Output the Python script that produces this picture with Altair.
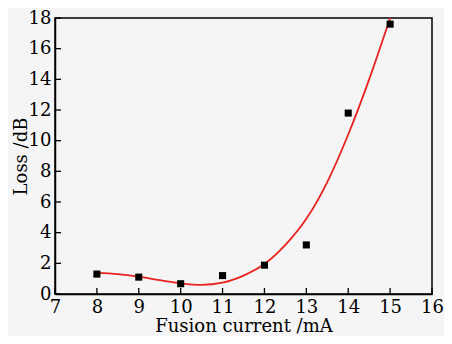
import altair as alt
import pandas as pd

# measured points
pt_x = [8, 9, 10, 11, 12, 13, 14, 15]
pt_y = [1.3, 1.1, 0.67, 1.2, 1.88, 3.2, 11.8, 17.6]

# fitted curve
cv_x = [8.0, 8.5, 9.0, 9.5, 10.0, 10.5, 11.0, 11.5, 12.0, 12.5, 13.0, 13.5, 14.0, 14.5, 15.0]
cv_y = [1.38, 1.3, 1.13, 0.9, 0.7, 0.6, 0.74, 1.2, 1.95, 3.2, 4.9, 7.3, 10.4, 14.0, 18.0]

x_ticks = [7, 8, 9, 10, 11, 12, 13, 14, 15, 16]
y_ticks = [0, 2, 4, 6, 8, 10, 12, 14, 16, 18]

pts = pd.DataFrame({"x": pt_x, "y": pt_y})
cv = pd.DataFrame({"x": cv_x, "y": cv_y})
xt = pd.DataFrame({"v": x_ticks})
yt = pd.DataFrame({"v": y_ticks})

FONT = "DejaVu Serif"
W, H = 377, 276
xs = alt.Scale(domain=[7, 16], nice=False, zero=False)
ys = alt.Scale(domain=[0, 18], nice=False)

common = dict(grid=False, ticks=False, domainColor="black", domainWidth=1.5,
              labelFont=FONT, titleFont=FONT, labelFontSize=18, titleFontSize=18,
              titleFontWeight="normal", labelColor="black", titleColor="black",
              labelOverlap=False, labelFlush=False, labelBound=False)
xaxis = alt.Axis(values=x_ticks, title="Fusion current /mA", labelPadding=4,
                 titleBaseline="alphabetic", titleY=37, **common)
yaxis = alt.Axis(values=y_ticks, title="Loss /dB", labelPadding=4,
                 titleBaseline="alphabetic", titleX=-29, **common)

X = alt.X("x:Q", scale=xs, axis=xaxis)
Y = alt.Y("y:Q", scale=ys, axis=yaxis)

curve = alt.Chart(cv).mark_line(color="#e8231f", strokeWidth=1.8, interpolate="monotone").encode(x=X, y=Y)
points = alt.Chart(pts).mark_square(color="black", size=50, opacity=1).encode(x=X, y=Y)

xtick = alt.Chart(xt).mark_rule(color="black", strokeWidth=1.3).encode(
    x=alt.X("v:Q", scale=xs, axis=xaxis), y=alt.value(H), y2=alt.value(H - 6))
ytick = alt.Chart(yt).mark_rule(color="black", strokeWidth=1.3).encode(
    y=alt.Y("v:Q", scale=ys, axis=yaxis), x=alt.value(0), x2=alt.value(6))

chart = alt.layer(curve, points, xtick, ytick).properties(
    width=W, height=H,
    autosize=alt.AutoSizeParams(type="none"),
    padding={"left": 47, "top": 10, "right": 12, "bottom": 42},
    background="#f5f5f5",
).configure_view(stroke="black", strokeWidth=1.5, fill="#f5f5f5")

chart.save("out.html", embed_options={"renderer": "svg", "actions": False})
